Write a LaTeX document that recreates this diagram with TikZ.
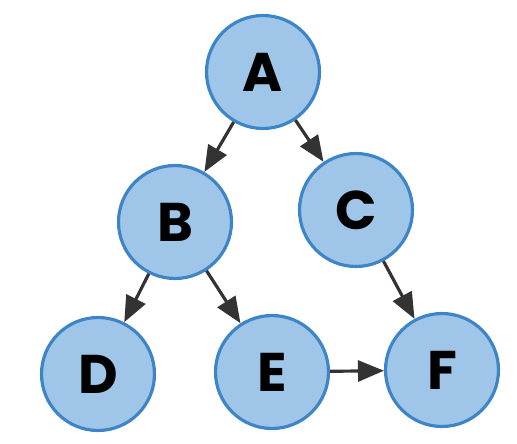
\documentclass[tikz,border=0pt]{standalone}
\usepackage{fontspec}
\setmainfont{Poppins}
\usetikzlibrary{arrows.meta}
\definecolor{nodefill}{HTML}{9FC5E8}
\definecolor{nodeline}{HTML}{3D85C6}
\definecolor{edgeink}{HTML}{333333}
\begin{document}
\begin{tikzpicture}[x=0.02cm,y=-0.02cm,
    vertex/.style={circle,draw=nodeline,fill=nodefill,line width=1.8pt,minimum size=2.26cm,inner sep=0pt,font=\fontsize{31}{31}\selectfont\bfseries},
    edge/.style={-{Triangle[length=0.52cm,width=0.42cm]},edgeink,line width=1.8pt}]
  \useasboundingbox (0,0) rectangle (517,443);
  % vertices
  \node[vertex] (A) at (263,72) {A};
  \node[vertex] (B) at (175,222) {B};
  \node[vertex] (C) at (356,210) {C};
  \node[vertex] (D) at (98,374) {D};
  \node[vertex] (E) at (272,372) {E};
  \node[vertex] (F) at (442,370) {F};
  % edges
  \foreach \u/\v in {A/B, A/C, B/D, B/E, C/F, E/F}
    \draw[edge] (\u) -- (\v);
\end{tikzpicture}
\end{document}
